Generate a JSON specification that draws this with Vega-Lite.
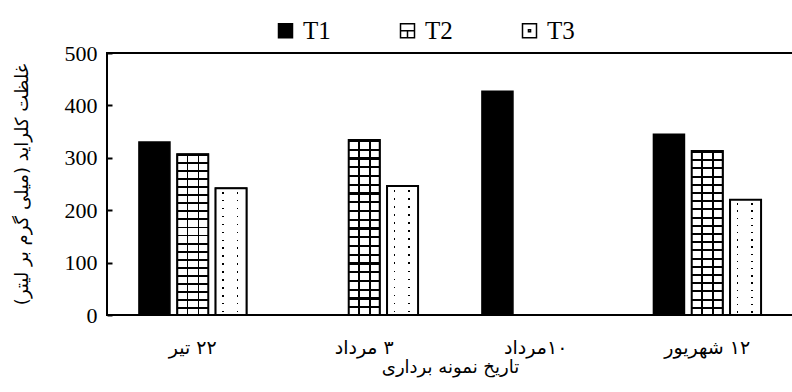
{
  "$schema": "https://vega.github.io/schema/vega-lite/v6.json",
  "autosize": "none",
  "width": 686,
  "height": 262,
  "padding": {"left": 107, "top": 53, "right": 0, "bottom": 77},
  "background": "white",
  "config": {
    "view": {"stroke": "black", "strokeWidth": 2},
    "axis": {"domain": false, "grid": false, "labelColor": "black", "titleColor": "black", "titleFontWeight": "normal"}
  },
  "data": {
    "values": [
      {"date": "\u200f۲۲ تیر", "series": "T1", "value": 330},
      {"date": "\u200f۲۲ تیر", "series": "T2", "value": 307},
      {"date": "\u200f۲۲ تیر", "series": "T3", "value": 242},
      {"date": "\u200f۳ مرداد", "series": "T2", "value": 334},
      {"date": "\u200f۳ مرداد", "series": "T3", "value": 246},
      {"date": "\u200f۱۰مرداد", "series": "T1", "value": 427},
      {"date": "\u200f۱۲ شهریور", "series": "T1", "value": 345},
      {"date": "\u200f۱۲ شهریور", "series": "T2", "value": 313},
      {"date": "\u200f۱۲ شهریور", "series": "T3", "value": 220}
    ]
  },
  "encoding": {
    "x": {
      "field": "date",
      "type": "nominal",
      "sort": ["\u200f۲۲ تیر", "\u200f۳ مرداد", "\u200f۱۰مرداد", "\u200f۱۲ شهریور"],
      "scale": {"paddingInner": 0.33, "paddingOuter": 0.165},
      "axis": {
        "title": "\u200fتاریخ نمونه برداری\u200f",
        "labelAngle": 0,
        "ticks": false,
        "labelPadding": 23,
        "labelFont": "DejaVu Sans",
        "labelFontSize": 19,
        "titleFont": "DejaVu Sans",
        "titleFontSize": 18,
        "titlePadding": 1
      }
    },
    "xOffset": {
      "field": "series",
      "scale": {"domain": ["T1", "T2", "T3"], "paddingInner": 0.19, "paddingOuter": 0.095}
    },
    "y": {
      "field": "value",
      "type": "quantitative",
      "scale": {"domain": [0, 500], "nice": false},
      "axis": {
        "title": "\u200fغلظت کلراید (میلی گرم بر لیتر)\u200f",
        "values": [0, 100, 200, 300, 400, 500],
        "tickSize": -5,
        "tickWidth": 2,
        "tickColor": "black",
        "labelPadding": 15,
        "labelFont": "Liberation Serif",
        "labelFontSize": 22,
        "titleFont": "DejaVu Sans",
        "titleFontSize": 18,
        "titlePadding": 33
      }
    }
  },
  "layer": [
    {
      "mark": {"type": "bar", "stroke": "black", "strokeWidth": 1.5},
      "encoding": {
        "fill": {
          "field": "series",
          "type": "nominal",
          "scale": {"domain": ["T1", "T2", "T3"], "range": ["black", "white", "white"]},
          "legend": {
            "title": null,
            "orient": "none",
            "direction": "horizontal",
            "legendX": 166,
            "legendY": -35,
            "labelFont": "Liberation Serif",
            "labelFontSize": 25,
            "labelColor": "black",
            "labelOffset": 5,
            "columnPadding": 64,
            "symbolSize": 196,
            "symbolStrokeColor": "black",
            "symbolStrokeWidth": 1.5,
            "encode": {
              "symbols": {
                "update": {
                  "shape": {"signal": "datum.value === 'T2' ? 'M-1,-1H1V1H-1Z M-1,0H1 M0,0V1' : datum.value === 'T3' ? 'M-1,-1H1V1H-1Z M-0.15,-0.15H0.15V0.15H-0.15Z' : 'square'"}
                }
              }
            }
          }
        }
      }
    },
    {
      "transform": [{"filter": "datum.series === 'T2'"}],
      "mark": {
        "type": "bar",
        "fill": {
          "gradient": "linear", "x1": 0, "y1": 0, "x2": 0, "y2": 1,
          "stops": [
            {"offset": 0, "color": "#000"}, {"offset": 0.012, "color": "#000"}, {"offset": 0.012, "color": "#fff"}, {"offset": 0.05, "color": "#fff"},
            {"offset": 0.05, "color": "#000"}, {"offset": 0.062, "color": "#000"}, {"offset": 0.062, "color": "#fff"}, {"offset": 0.1, "color": "#fff"},
            {"offset": 0.1, "color": "#000"}, {"offset": 0.112, "color": "#000"}, {"offset": 0.112, "color": "#fff"}, {"offset": 0.15, "color": "#fff"},
            {"offset": 0.15, "color": "#000"}, {"offset": 0.162, "color": "#000"}, {"offset": 0.162, "color": "#fff"}, {"offset": 0.2, "color": "#fff"},
            {"offset": 0.2, "color": "#000"}, {"offset": 0.212, "color": "#000"}, {"offset": 0.212, "color": "#fff"}, {"offset": 0.25, "color": "#fff"},
            {"offset": 0.25, "color": "#000"}, {"offset": 0.262, "color": "#000"}, {"offset": 0.262, "color": "#fff"}, {"offset": 0.3, "color": "#fff"},
            {"offset": 0.3, "color": "#000"}, {"offset": 0.312, "color": "#000"}, {"offset": 0.312, "color": "#fff"}, {"offset": 0.35, "color": "#fff"},
            {"offset": 0.35, "color": "#000"}, {"offset": 0.362, "color": "#000"}, {"offset": 0.362, "color": "#fff"}, {"offset": 0.4, "color": "#fff"},
            {"offset": 0.4, "color": "#000"}, {"offset": 0.412, "color": "#000"}, {"offset": 0.412, "color": "#fff"}, {"offset": 0.45, "color": "#fff"},
            {"offset": 0.45, "color": "#000"}, {"offset": 0.462, "color": "#000"}, {"offset": 0.462, "color": "#fff"}, {"offset": 0.5, "color": "#fff"},
            {"offset": 0.5, "color": "#000"}, {"offset": 0.512, "color": "#000"}, {"offset": 0.512, "color": "#fff"}, {"offset": 0.55, "color": "#fff"},
            {"offset": 0.55, "color": "#000"}, {"offset": 0.562, "color": "#000"}, {"offset": 0.562, "color": "#fff"}, {"offset": 0.6, "color": "#fff"},
            {"offset": 0.6, "color": "#000"}, {"offset": 0.612, "color": "#000"}, {"offset": 0.612, "color": "#fff"}, {"offset": 0.65, "color": "#fff"},
            {"offset": 0.65, "color": "#000"}, {"offset": 0.662, "color": "#000"}, {"offset": 0.662, "color": "#fff"}, {"offset": 0.7, "color": "#fff"},
            {"offset": 0.7, "color": "#000"}, {"offset": 0.712, "color": "#000"}, {"offset": 0.712, "color": "#fff"}, {"offset": 0.75, "color": "#fff"},
            {"offset": 0.75, "color": "#000"}, {"offset": 0.762, "color": "#000"}, {"offset": 0.762, "color": "#fff"}, {"offset": 0.8, "color": "#fff"},
            {"offset": 0.8, "color": "#000"}, {"offset": 0.812, "color": "#000"}, {"offset": 0.812, "color": "#fff"}, {"offset": 0.85, "color": "#fff"},
            {"offset": 0.85, "color": "#000"}, {"offset": 0.862, "color": "#000"}, {"offset": 0.862, "color": "#fff"}, {"offset": 0.9, "color": "#fff"},
            {"offset": 0.9, "color": "#000"}, {"offset": 0.912, "color": "#000"}, {"offset": 0.912, "color": "#fff"}, {"offset": 0.95, "color": "#fff"},
            {"offset": 0.95, "color": "#000"}, {"offset": 0.962, "color": "#000"}, {"offset": 0.962, "color": "#fff"}, {"offset": 1, "color": "#fff"}
          ]
        }
      }
    },
    {
      "transform": [{"filter": "datum.series === 'T2'"}],
      "mark": {
        "type": "bar",
        "fill": {
          "gradient": "linear", "x1": 0, "y1": 0, "x2": 1, "y2": 0,
          "stops": [
            {"offset": 0, "color": "rgba(0,0,0,0)"}, {"offset": 0.3, "color": "rgba(0,0,0,0)"},
            {"offset": 0.3, "color": "#000"}, {"offset": 0.35, "color": "#000"},
            {"offset": 0.35, "color": "rgba(0,0,0,0)"}, {"offset": 0.66, "color": "rgba(0,0,0,0)"},
            {"offset": 0.66, "color": "#000"}, {"offset": 0.71, "color": "#000"},
            {"offset": 0.71, "color": "rgba(0,0,0,0)"}, {"offset": 1, "color": "rgba(0,0,0,0)"}
          ]
        }
      }
    },
    {
      "transform": [{"filter": "datum.series === 'T3'"}],
      "mark": {
        "type": "bar",
        "fill": {
          "gradient": "linear", "x1": 0, "y1": 0, "x2": 0, "y2": 1,
          "stops": [
            {"offset": 0, "color": "#fff"},
            {"offset": 0.03, "color": "#fff"}, {"offset": 0.03, "color": "#000"}, {"offset": 0.042, "color": "#000"}, {"offset": 0.042, "color": "#fff"},
            {"offset": 0.0925, "color": "#fff"}, {"offset": 0.0925, "color": "#000"}, {"offset": 0.1045, "color": "#000"}, {"offset": 0.1045, "color": "#fff"},
            {"offset": 0.155, "color": "#fff"}, {"offset": 0.155, "color": "#000"}, {"offset": 0.167, "color": "#000"}, {"offset": 0.167, "color": "#fff"},
            {"offset": 0.2175, "color": "#fff"}, {"offset": 0.2175, "color": "#000"}, {"offset": 0.2295, "color": "#000"}, {"offset": 0.2295, "color": "#fff"},
            {"offset": 0.28, "color": "#fff"}, {"offset": 0.28, "color": "#000"}, {"offset": 0.292, "color": "#000"}, {"offset": 0.292, "color": "#fff"},
            {"offset": 0.3425, "color": "#fff"}, {"offset": 0.3425, "color": "#000"}, {"offset": 0.3545, "color": "#000"}, {"offset": 0.3545, "color": "#fff"},
            {"offset": 0.405, "color": "#fff"}, {"offset": 0.405, "color": "#000"}, {"offset": 0.417, "color": "#000"}, {"offset": 0.417, "color": "#fff"},
            {"offset": 0.4675, "color": "#fff"}, {"offset": 0.4675, "color": "#000"}, {"offset": 0.4795, "color": "#000"}, {"offset": 0.4795, "color": "#fff"},
            {"offset": 0.53, "color": "#fff"}, {"offset": 0.53, "color": "#000"}, {"offset": 0.542, "color": "#000"}, {"offset": 0.542, "color": "#fff"},
            {"offset": 0.5925, "color": "#fff"}, {"offset": 0.5925, "color": "#000"}, {"offset": 0.6045, "color": "#000"}, {"offset": 0.6045, "color": "#fff"},
            {"offset": 0.655, "color": "#fff"}, {"offset": 0.655, "color": "#000"}, {"offset": 0.667, "color": "#000"}, {"offset": 0.667, "color": "#fff"},
            {"offset": 0.7175, "color": "#fff"}, {"offset": 0.7175, "color": "#000"}, {"offset": 0.7295, "color": "#000"}, {"offset": 0.7295, "color": "#fff"},
            {"offset": 0.78, "color": "#fff"}, {"offset": 0.78, "color": "#000"}, {"offset": 0.792, "color": "#000"}, {"offset": 0.792, "color": "#fff"},
            {"offset": 0.8425, "color": "#fff"}, {"offset": 0.8425, "color": "#000"}, {"offset": 0.8545, "color": "#000"}, {"offset": 0.8545, "color": "#fff"},
            {"offset": 0.905, "color": "#fff"}, {"offset": 0.905, "color": "#000"}, {"offset": 0.917, "color": "#000"}, {"offset": 0.917, "color": "#fff"},
            {"offset": 0.9675, "color": "#fff"}, {"offset": 0.9675, "color": "#000"}, {"offset": 0.9795, "color": "#000"}, {"offset": 0.9795, "color": "#fff"},
            {"offset": 1, "color": "#fff"}
          ]
        }
      }
    },
    {
      "transform": [{"filter": "datum.series === 'T3'"}],
      "mark": {
        "type": "bar",
        "fill": {
          "gradient": "linear", "x1": 0, "y1": 0, "x2": 1, "y2": 0,
          "stops": [
            {"offset": 0, "color": "#fff"}, {"offset": 0.22, "color": "#fff"},
            {"offset": 0.22, "color": "rgba(255,255,255,0)"}, {"offset": 0.27, "color": "rgba(255,255,255,0)"},
            {"offset": 0.27, "color": "#fff"}, {"offset": 0.68, "color": "#fff"},
            {"offset": 0.68, "color": "rgba(255,255,255,0)"}, {"offset": 0.73, "color": "rgba(255,255,255,0)"},
            {"offset": 0.73, "color": "#fff"}, {"offset": 1, "color": "#fff"}
          ]
        }
      }
    },
    {
      "transform": [{"filter": "datum.series !== 'T1'"}],
      "mark": {"type": "bar", "fill": "transparent", "stroke": "black", "strokeWidth": 2}
    }
  ]
}
